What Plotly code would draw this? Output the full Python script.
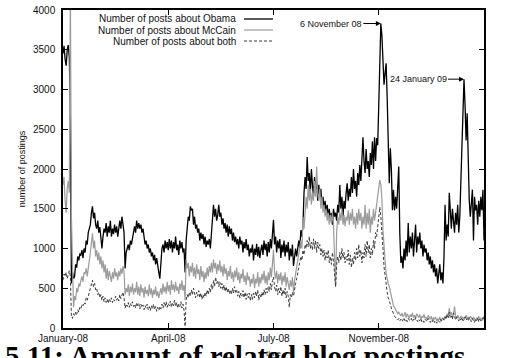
import pandas as pd
import plotly.graph_objects as go

# Daily posting counts, one value per day starting at start_date
start_date = "2008-01-09"

obama = [
    3450, 3550, 3380, 3300, 3500, 3560, 3400, 2700, 560, 700,
    620, 650, 800, 760, 900, 850, 930, 920, 980, 880,
    1000, 950, 1100, 1050, 1200, 1250, 1300, 1450, 1530, 1380,
    1450, 1300, 1250, 1350, 1200, 1270, 1100, 1000, 1150, 1250,
    1200, 1320, 1150, 1280, 1200, 1350, 1150, 1250, 1180, 1300,
    1200, 1280, 1150, 1300, 1350, 1250, 1400, 1300, 1200, 750,
    950, 1000, 1050, 980, 1100, 1050, 1150, 1200, 1280, 1200,
    1350, 1250, 1320, 1250, 1300, 1200, 1250, 1150, 1050, 1100,
    1000, 1050, 950, 1000, 900, 950, 850, 920, 800, 880,
    760, 700, 620, 850, 1000, 1050, 950, 1100, 1000, 1080,
    980, 1120, 1000, 1100, 950, 1080, 1000, 1150, 980, 1050,
    920, 1100, 1000, 1080, 950, 1000, 700, 1100, 1250, 1400,
    1350, 1530, 1480, 1500, 1300, 1400, 1250, 1300, 1200, 1250,
    1100, 1200, 1120, 1180, 1050, 1150, 1020, 1100, 1050, 1120,
    1000, 1150, 1300, 1550, 1400, 1500, 1350, 1420, 1550, 1400,
    1450, 1300, 1380, 1250, 1320, 1200, 1300, 1150, 1280, 1180,
    1250, 1100, 1200, 1080, 1150, 1050, 1120, 1000, 1150, 1050,
    1100, 950, 1080, 1000, 1120, 980, 1050, 900, 1000, 950,
    1050, 850, 1000, 920, 1060, 900, 1020, 880, 980, 1050,
    920, 1100, 980, 1060, 900, 1080, 950, 1120, 1000, 1200,
    1360, 1050, 1150, 950, 1100, 1000, 1120, 880, 1050, 950,
    1100, 900, 1050, 950, 1080, 850, 1000, 900, 1050, 780,
    950, 1000, 900, 1050, 1100, 1000, 1230, 1150, 1300, 1700,
    1900, 1750, 2150, 1850, 1950, 1700, 2000, 1800, 1650, 1900,
    1750, 1850, 1600, 1800, 1650, 1750, 1550, 1650, 1500, 1600,
    1450, 1550, 1400, 1500, 1350, 1450, 1300, 1500, 1400, 1450,
    1350, 1550, 1450, 1800, 1500, 1650, 1400, 1600, 1500, 1700,
    1820, 1600, 1750, 1650, 1900, 1700, 2000, 1750, 1850, 1650,
    1950, 1800, 2050, 1850, 2150, 2400, 2100, 1950, 2250, 2000,
    2100, 1900, 2200, 2050, 2350, 2000, 2400, 2100, 2390, 2300,
    2800, 3300, 3830, 3680, 3400, 3060, 3200, 3330, 2900, 2450,
    1820, 2260, 1990, 1480, 1740, 1480, 1650, 1500, 1750, 2030,
    1190, 820, 900, 750, 1000, 850, 1100, 900, 1320, 950,
    1150, 1000, 1200, 900, 1100, 1300, 950, 1150, 1050, 1200,
    1000, 1100, 900, 1050, 950, 1000, 850, 950, 800, 900,
    750, 850, 700, 800, 650, 750, 560, 700, 800, 600,
    700, 560, 900, 1550, 1100, 1300, 1150, 1700, 1400, 1250,
    1500, 1350, 1200, 1450, 1300, 1550, 1200, 1400, 1800, 2300,
    2700, 3130, 2800, 2360, 2700, 1950, 1600, 1400, 1610, 1740,
    1100, 1650, 1480, 1550, 1300, 1600, 1400, 1650, 1480, 1740,
    1100,
]

mccain = [
    1800, 1900, 1600, 1450, 1750, 1850, 1700, 4300, 1400, 800,
    260, 400, 350, 500, 450, 560, 520, 600, 650, 580,
    700, 680, 750, 650, 800, 850, 950, 1100, 1190, 1000,
    1100, 900, 980, 850, 950, 800, 900, 750, 850, 700,
    800, 620, 750, 600, 720, 650, 580, 700, 620, 750,
    650, 700, 600, 720, 650, 750, 680, 780, 700, 420,
    500, 450, 550, 400, 520, 450, 560, 420, 500, 450,
    580, 420, 520, 400, 550, 450, 500, 380, 520, 430,
    480, 400, 550, 420, 500, 380, 480, 420, 520, 400,
    460, 380, 450, 500, 420, 560, 450, 520, 430, 580,
    460, 540, 420, 600, 480, 550, 450, 580, 470, 520,
    430, 560, 480, 600, 470, 540, 350, 860, 750, 820,
    650, 780, 700, 820, 650, 760, 620, 800, 680, 740,
    600, 780, 640, 720, 580, 700, 620, 760, 650, 780,
    700, 820, 700, 860, 750, 820, 680, 800, 720, 850,
    700, 780, 650, 800, 680, 750, 600, 720, 650, 780,
    620, 700, 580, 720, 640, 760, 600, 700, 560, 680,
    620, 740, 580, 660, 540, 700, 600, 650, 520, 620,
    560, 680, 500, 620, 560, 700, 520, 640, 560, 680,
    600, 720, 560, 660, 540, 700, 600, 760, 640, 820,
    980, 700, 620, 720, 560, 680, 600, 700, 540, 660,
    580, 700, 520, 640, 560, 480, 600, 520, 640, 450,
    600, 680, 750, 820, 900, 980, 1100, 1000, 1400, 1250,
    1550, 1650, 1500, 1800, 1600, 1750, 1550, 1700, 1600, 1850,
    1650, 2030, 1700, 1600, 1750, 1500, 1650, 1450, 1550, 1400,
    1500, 1350, 1450, 1300, 1420, 1320, 1450, 1300, 900, 520,
    1200, 1400, 1300, 1450, 1350, 1500, 1300, 1420, 1280, 1400,
    1350, 1480, 1300, 1450, 1350, 1500, 1300, 1400, 1250, 1450,
    1300, 1500, 1350, 1450, 1250, 1400, 1300, 1550, 1250, 1450,
    1300, 1500, 1200, 1400, 1300, 1500, 1350, 1450, 1550, 1650,
    1750, 1860, 1800, 1620, 1230, 980, 850, 690, 600, 560,
    520, 450, 390, 330, 280, 260, 230, 200, 180, 200,
    170, 150, 190, 140, 160, 200, 130, 180, 150, 120,
    170, 140, 190, 130, 160, 120, 180, 150, 130, 170,
    110, 150, 130, 170, 120, 140, 100, 160, 130, 110,
    150, 90, 130, 110, 140, 90, 120, 100, 140, 80,
    110, 130, 100, 150, 120, 180, 140, 250, 160, 200,
    130, 170, 270, 150, 120, 160, 130, 110, 150, 120,
    140, 100, 130, 160, 120, 140, 110, 150, 130, 100,
    140, 120, 90, 130, 110, 150, 100, 130, 90, 120,
    150,
]

both = [
    600, 680, 650, 700, 620, 680, 720, 650, 140, 120,
    180, 150, 200, 170, 230, 200, 260, 240, 300, 280,
    320, 300, 380, 350, 420, 450, 500, 560, 600, 520,
    560, 480, 500, 420, 450, 380, 420, 350, 400, 330,
    380, 320, 360, 310, 370, 330, 380, 320, 360, 340,
    400, 350, 380, 340, 420, 370, 400, 450, 380, 250,
    300, 270, 320, 260, 310, 280, 330, 270, 300, 250,
    320, 280, 310, 240, 300, 260, 290, 230, 280, 250,
    300, 230, 270, 220, 280, 240, 300, 230, 270, 210,
    260, 220, 270, 240, 300, 250, 320, 270, 330, 260,
    310, 280, 340, 260, 320, 280, 350, 270, 320, 250,
    300, 270, 330, 250, 300, 220, 20, 350, 420, 380,
    450, 400, 480, 420, 500, 430, 380, 450, 400, 470,
    380, 440, 360, 420, 380, 450, 400, 480, 420, 500,
    450, 550, 480, 600, 520, 640, 560, 600, 520, 580,
    500, 560, 480, 540, 460, 520, 450, 500, 430, 480,
    420, 500, 440, 520, 450, 480, 400, 460, 380, 440,
    400, 470, 380, 450, 360, 430, 380, 440, 340, 420,
    360, 440, 380, 460, 400, 480, 350, 420, 380, 450,
    400, 480, 420, 500, 440, 520, 460, 560, 480, 600,
    640, 520, 460, 540, 420, 500, 440, 520, 400, 480,
    420, 500, 380, 460, 400, 260, 420, 380, 450, 400,
    500, 560, 620, 680, 750, 820, 900, 850, 980, 920,
    1050, 1000, 1100, 1020, 1150, 1000, 1080, 980, 1120, 1000,
    1100, 950, 1080, 1000, 1050, 920, 1000, 900, 980, 850,
    950, 880, 980, 820, 900, 800, 950, 850, 700, 520,
    800, 900, 820, 950, 850, 1000, 880, 950, 820, 900,
    850, 980, 800, 920, 760, 880, 800, 950, 850, 1000,
    880, 1050, 900, 980, 820, 950, 880, 1050, 900, 1100,
    950, 1050, 880, 1000, 920, 1100, 1000, 1200, 1150, 1300,
    1450, 1520, 1400, 1230, 1000, 770, 650, 520, 450, 380,
    350, 300, 250, 200, 180, 150, 130, 110, 100, 120,
    90, 110, 80, 100, 130, 90, 110, 80, 120, 100,
    90, 120, 80, 110, 90, 130, 100, 80, 110, 90,
    120, 80, 100, 70, 110, 90, 80, 120, 90, 70,
    100, 80, 110, 70, 90, 60, 100, 80, 70, 110,
    90, 120, 100, 140, 110, 170, 130, 200, 120, 150,
    110, 190, 130, 100, 140, 110, 90, 120, 100, 130,
    90, 110, 140, 100, 120, 90, 130, 110, 80, 120,
    100, 70, 110, 90, 130, 80, 110, 90, 100, 130,
    90,
]

series_names = [
    "Number of posts about Obama",
    "Number of posts about McCain",
    "Number of posts about both",
]
tick_days = [0, 100, 200, 300, 400]
tick_labels = ["January-08", "April-08", "July-08", "November-08", "February-09"]
peak_dates = ["2008-11-06", "2009-01-24"]
peak_labels = ["6 November 08", "24 January 09"]
caption = "5.11: Amount of related blog postings"

assert len(obama) == len(mccain) == len(both), (len(obama), len(mccain), len(both))
dates = pd.date_range(start_date, periods=len(obama), freq="D")

styles = [
    dict(color="#000000", width=1.3),
    dict(color="#9c9c9c", width=1.2),
    dict(color="#3a3a3a", width=1.0, dash="3px,2px"),
]

FONT = "Liberation Sans, Arial, sans-serif"

fig = go.Figure()
for name, values, style in zip(series_names, [obama, mccain, both], styles):
    fig.add_trace(go.Scatter(x=dates, y=values, mode="lines", name=name,
                             line=style, showlegend=False))

# gnuplot-style key: right-aligned text with a line sample to its right
key_rows = [0.9717, 0.9371, 0.9025]
for name, style, yk in zip(series_names, styles, key_rows):
    fig.add_annotation(xref="paper", yref="paper", x=0.4157, y=yk,
                       xanchor="right", yanchor="middle", showarrow=False,
                       text=name, font=dict(family=FONT, size=10, color="#111"))
    fig.add_shape(type="line", xref="paper", yref="paper",
                  x0=0.4299, x1=0.4988, y0=yk, y1=yk,
                  line=dict(color=style["color"], width=style["width"],
                            dash=style.get("dash", "solid")))

# arrows pointing at the two peaks of the Obama series
offsets = [-50, -46]
for d, label, ax in zip(peak_dates, peak_labels, offsets):
    i = dates.get_loc(pd.Timestamp(d))
    fig.add_annotation(x=dates[i], y=obama[i], xref="x", yref="y",
                       text=label, showarrow=True, ax=ax, ay=0,
                       arrowhead=2, arrowsize=1, arrowwidth=1, arrowcolor="#000",
                       standoff=0, font=dict(family=FONT, size=9, color="#111"))

# figure caption running along the bottom edge
fig.add_annotation(xref="paper", yref="paper", x=-0.1420, y=-0.0880,
                   xanchor="left", yanchor="middle", showarrow=False,
                   text="<b>" + caption + "</b>",
                   font=dict(family="Liberation Serif, Times New Roman, serif",
                             size=29, color="#000"))

axis_common = dict(showline=True, linecolor="#000", linewidth=1.5, mirror="ticks",
                   ticks="inside", ticklen=5, tickcolor="#000", tickwidth=1,
                   showgrid=False, zeroline=False, automargin=False,
                   tickfont=dict(family=FONT, size=10, color="#111"))

fig.update_layout(
    width=509, height=358,
    margin=dict(l=63, r=25, t=10, b=30, pad=0, autoexpand=False),
    paper_bgcolor="white", plot_bgcolor="white",
    xaxis=dict(type="date", range=[dates[0], dates[-1]],
               tickvals=[dates[d] for d in tick_days], ticktext=tick_labels,
               title=dict(text="time", font=dict(family=FONT, size=8, color="#111"),
                          standoff=9),
               **axis_common),
    yaxis=dict(range=[0, 4000], dtick=500, tick0=0, ticklabelstandoff=4,
               title=dict(text="number of postings",
                          font=dict(family=FONT, size=9, color="#111"), standoff=6),
               **axis_common),
)

fig.write_html("out.html")
